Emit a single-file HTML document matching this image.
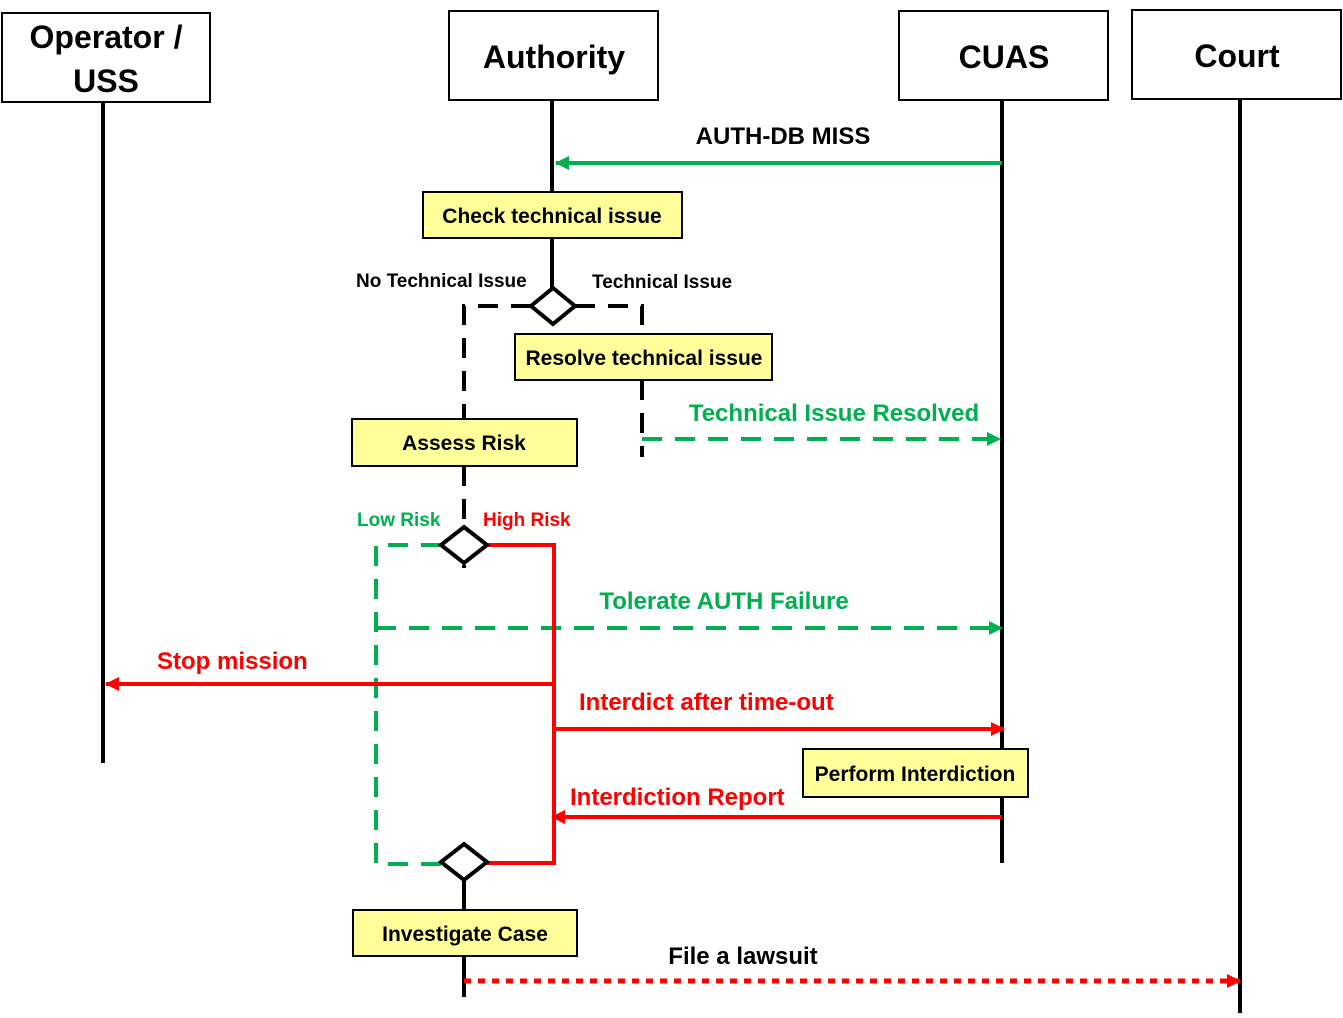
<!DOCTYPE html>
<html><head><style>body{margin:0;background:#fff}svg{display:block}text{font-family:"Liberation Sans",sans-serif;font-weight:bold}</style></head><body>
<svg width="1343" height="1018" viewBox="0 0 1343 1018">
<defs>
<marker id="ar" markerWidth="14" markerHeight="14" refX="13" refY="7" orient="auto" markerUnits="userSpaceOnUse" viewBox="0 0 14 14"><path d="M0,0 L14,7 L0,14z" fill="#FF0000"/></marker>
<marker id="agb" markerWidth="14" markerHeight="14" refX="13" refY="7" orient="auto" markerUnits="userSpaceOnUse" viewBox="0 0 14 14"><path d="M0,0 L14,7 L0,14z" fill="#00B050"/></marker>
</defs>
<g stroke="#000" stroke-width="4">
<line x1="103" y1="102" x2="103" y2="763"/>
<line x1="552" y1="100" x2="552" y2="290"/>
<line x1="1002" y1="100" x2="1002" y2="863"/>
<line x1="1240" y1="99" x2="1240" y2="1013"/>
<line x1="464" y1="880" x2="464" y2="997"/>
</g>
<g fill="#fff" stroke="#000" stroke-width="2">
<rect x="2" y="13" width="208" height="89"/>
<rect x="449" y="11" width="209" height="89"/>
<rect x="899" y="11" width="209" height="89"/>
<rect x="1132" y="10" width="209" height="89"/>
</g>
<g font-size="32" text-anchor="middle" fill="#000">
<text x="106" y="48">Operator /</text><text x="106" y="92">USS</text>
<text x="554" y="68">Authority</text>
<text x="1004" y="68">CUAS</text>
<text x="1237" y="67">Court</text>
</g>
<line x1="1002" y1="163" x2="556" y2="163" stroke="#00B050" stroke-width="4" marker-end="url(#agb)"/>
<text x="783" y="144" font-size="24" text-anchor="middle">AUTH-DB MISS</text>
<g stroke="#000" stroke-width="4" stroke-dasharray="20,13" fill="none">
<path d="M531,306 H464 V418"/>
<path d="M464,466 V568"/>
<path d="M575,306 H642 V333"/>
<path d="M642,380 V457"/>
</g>
<line x1="642" y1="439" x2="1000" y2="439" stroke="#00B050" stroke-width="4" stroke-dasharray="20,13" marker-end="url(#agb)"/>
<text x="834" y="421" font-size="24" fill="#00B050" text-anchor="middle">Technical Issue Resolved</text>
<g stroke="#00B050" stroke-width="4" stroke-dasharray="20,13" fill="none">
<path d="M441,545 H376 V864 H441"/>
</g>
<line x1="376" y1="628" x2="1002" y2="628" stroke="#00B050" stroke-width="4" stroke-dasharray="20,13" marker-end="url(#agb)"/>
<text x="724" y="609" font-size="24" fill="#00B050" text-anchor="middle">Tolerate AUTH Failure</text>
<g stroke="#FF0000" stroke-width="4" fill="none">
<path d="M487,545 H554 V863 H487"/>
<line x1="554" y1="684" x2="106" y2="684" marker-end="url(#ar)"/>
<line x1="554" y1="729" x2="1004" y2="729" marker-end="url(#ar)"/>
<line x1="1002" y1="817" x2="552" y2="817" marker-end="url(#ar)"/>
<line x1="464" y1="981" x2="1240" y2="981" stroke-width="5" stroke-dasharray="7,7" marker-end="url(#ar)"/>
</g>
<g font-size="24" fill="#FF0000">
<text x="157" y="669">Stop mission</text>
<text x="579" y="710">Interdict after time-out</text>
<text x="570" y="805">Interdiction Report</text>
</g>
<text x="743" y="964" font-size="24" text-anchor="middle">File a lawsuit</text>
<g fill="#fff" stroke="#000" stroke-width="4">
<path d="M553,288 L575,306 L553,324 L531,306z"/>
<path d="M464,527 L487,545 L464,563 L441,545z"/>
<path d="M464,844 L487,862 L464,880 L441,862z"/>
</g>
<g fill="#FFFF99" stroke="#000" stroke-width="2">
<rect x="423" y="192" width="259" height="46"/>
<rect x="515" y="334" width="257" height="46"/>
<rect x="352" y="419" width="225" height="47"/>
<rect x="803" y="749" width="225" height="48"/>
<rect x="353" y="910" width="224" height="46"/>
</g>
<g font-size="21" text-anchor="middle" fill="#000">
<text x="552" y="223">Check technical issue</text>
<text x="644" y="365">Resolve technical issue</text>
<text x="464" y="450">Assess Risk</text>
<text x="915" y="781">Perform Interdiction</text>
<text x="465" y="941">Investigate Case</text>
</g>
<g font-size="19">
<text x="356" y="287">No Technical Issue</text>
<text x="592" y="288">Technical Issue</text>
<text x="357" y="526" fill="#00B050">Low Risk</text>
<text x="483" y="526" fill="#FF0000">High Risk</text>
</g>
</svg>
</body></html>
